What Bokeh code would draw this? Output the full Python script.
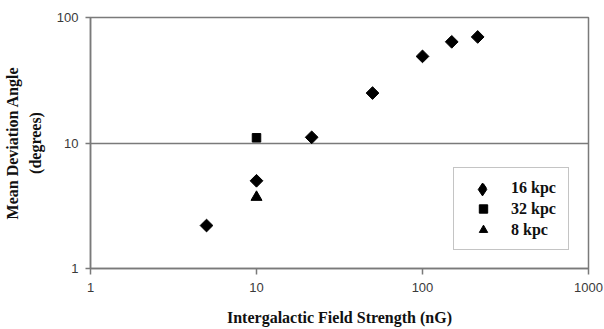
import numpy as np
from bokeh.plotting import figure
from bokeh.models import FixedTicker, Legend, LegendItem
from bokeh.embed import file_html
from bokeh.resources import INLINE

# data
x_16kpc = [5, 10, 21.5, 50, 100, 150, 215]
y_16kpc = [2.2, 5.0, 11.1, 25, 49, 64, 70]
x_32kpc = [10]
y_32kpc = [11.0]
x_8kpc = [10]
y_8kpc = [3.7]

series_labels = ["16 kpc", "32 kpc", "8 kpc"]

x_ticks = [1, 10, 100, 1000]
x_tick_labels = ["1", "10", "100", "1000"]
y_ticks = [1, 10, 100]
y_tick_labels = ["1", "10", "100"]

AXIS_GRAY = "#7a7a7a"

p = figure(x_axis_type="log", y_axis_type="log",
           x_range=(1, 1000), y_range=(1, 100),
           frame_width=498, frame_height=251,
           min_border_left=83, min_border_top=17,
           min_border_right=15, min_border_bottom=61,
           output_backend="svg", toolbar_location=None,
           background_fill_color="white", border_fill_color="white")

p.outline_line_color = AXIS_GRAY
p.outline_line_width = 1.5

p.xgrid.visible = False
p.ygrid.ticker = FixedTicker(ticks=[10])
p.ygrid.grid_line_color = AXIS_GRAY
p.ygrid.grid_line_width = 1.5

p.xaxis.ticker = FixedTicker(ticks=x_ticks)
p.yaxis.ticker = FixedTicker(ticks=y_ticks)
p.xaxis.major_label_overrides = {t: l for t, l in zip(x_ticks, x_tick_labels)}
p.yaxis.major_label_overrides = {t: l for t, l in zip(y_ticks, y_tick_labels)}

for ax in (p.xaxis, p.yaxis):
    ax.axis_line_color = AXIS_GRAY
    ax.axis_line_width = 1.5
    ax.major_tick_line_color = AXIS_GRAY
    ax.major_tick_line_width = 1.5
    ax.major_tick_in = 0
    ax.minor_tick_line_color = None
    ax.major_label_text_font = "Liberation Sans"
    ax.major_label_text_font_size = "13px"
    ax.major_label_text_color = "#3a3a3a"
    ax.axis_label_text_font = "Liberation Serif"
    ax.axis_label_text_font_style = "bold"
    ax.axis_label_text_font_size = "16px"
    ax.axis_label_text_color = "#111111"

p.xaxis.major_tick_out = 6
p.xaxis.major_label_standoff = 8
p.yaxis.major_tick_out = 5
p.yaxis.major_label_standoff = 7

p.xaxis.axis_label = "Intergalactic Field Strength (nG)"
p.xaxis.axis_label_standoff = 14
p.yaxis.axis_label = "Mean Deviation Angle\n(degrees)"
p.yaxis.axis_label_standoff = 10
p.yaxis.axis_label_text_line_height = 1.35

# visible points
r16 = p.scatter(x_16kpc, y_16kpc, marker="square", angle=np.pi / 4, size=9,
                fill_color="black", line_color="black")
r32 = p.scatter(x_32kpc, y_32kpc, marker="square", size=8.5,
                fill_color="black", line_color="black")
r8 = p.scatter(x_8kpc, y_8kpc, marker="triangle", size=11,
               fill_color="black", line_color="black")
# legend-only glyph for the diamond (legend ignores marker angle)
r16_leg = p.scatter(x_16kpc[:1], y_16kpc[:1], marker="diamond",
                    fill_color="black", line_color="black", visible=False)

legend = Legend(items=[LegendItem(label=series_labels[0], renderers=[r16_leg]),
                       LegendItem(label=series_labels[1], renderers=[r32]),
                       LegendItem(label=series_labels[2], renderers=[r8])],
                location=(363, 18))
legend.border_line_color = "#8a8a8a"
legend.border_line_width = 1.5
legend.background_fill_color = "white"
legend.background_fill_alpha = 1
legend.padding = 9
legend.spacing = 0
legend.margin = 0
legend.glyph_width = 40
legend.glyph_height = 21
legend.label_height = 21
legend.label_standoff = 8
legend.label_text_font = "Liberation Serif"
legend.label_text_font_style = "bold"
legend.label_text_font_size = "16px"
legend.label_text_color = "#111111"
legend.label_width = 48
p.add_layout(legend)

# overlay legend: larger diamond glyph for the first entry
legend_d = Legend(items=[LegendItem(label=series_labels[0], renderers=[r16_leg])],
                  location=(372, 63.5))
legend_d.border_line_color = None
legend_d.background_fill_alpha = 0
legend_d.padding = 0
legend_d.spacing = 0
legend_d.margin = 0
legend_d.glyph_width = 40
legend_d.glyph_height = 32
legend_d.label_height = 32
legend_d.label_standoff = 8
legend_d.label_text_font = "Liberation Serif"
legend_d.label_text_font_style = "bold"
legend_d.label_text_font_size = "16px"
legend_d.label_text_alpha = 0
legend_d.label_width = 48
p.add_layout(legend_d)

open("out.html", "w").write(file_html(p, INLINE))
